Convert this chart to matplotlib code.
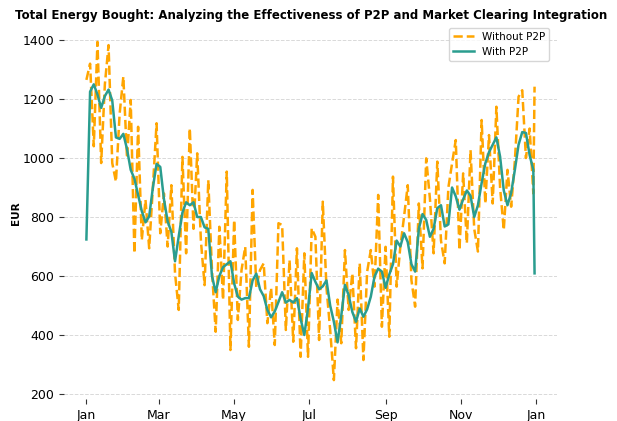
import matplotlib
matplotlib.use("Agg")
import matplotlib.pyplot as plt
import matplotlib.dates as mdates
import pandas as pd

dates = list(pd.date_range("2023-01-01", periods=122, freq="3D")) + [pd.Timestamp("2023-12-31")]

without_p2p = [
    1265, 1320, 1040, 1394, 983, 1250, 1383, 983, 920, 1150,
    1276, 1000, 1197, 677, 1106, 722, 858, 694, 900, 1118,
    745, 880, 700, 908, 609, 485, 1004, 677, 1101, 760,
    1016, 720, 569, 925, 620, 411, 767, 519, 954, 349,
    790, 451, 620, 699, 360, 892, 560, 620, 643, 440,
    560, 366, 779, 773, 417, 654, 377, 694, 326, 677,
    326, 762, 733, 383, 852, 560, 417, 247, 520, 372,
    688, 485, 609, 355, 643, 315, 614, 688, 564, 875,
    428, 699, 394, 937, 564, 700, 801, 908, 586, 496,
    846, 626, 999, 863, 677, 988, 720, 643, 900, 982,
    1061, 688, 948, 711, 1027, 760, 683, 1129, 846, 1078,
    846, 1174, 900, 756, 960, 835, 990, 1208, 1230, 1000,
    1100, 880, 1242,
]

with_p2p = [
    724, 1225, 1250, 1215, 1170, 1210, 1232, 1195, 1070, 1065,
    1082, 1030, 960, 930, 875, 820, 782, 802, 900, 980,
    970, 860, 785, 750, 650, 735, 815, 850, 840, 850,
    800, 800, 765, 760, 600, 545, 600, 630, 640, 650,
    575, 530, 520, 525, 525, 585, 608, 555, 532, 485,
    460, 480, 512, 545, 510, 519, 510, 525, 455, 400,
    490, 610, 580, 555, 565, 585, 500, 445, 375, 465,
    570, 535, 478, 445, 490, 462, 487, 530, 598, 625,
    615, 560, 605, 640, 720, 700, 745, 715, 640, 615,
    760, 810, 790, 733, 760, 830, 840, 768, 775, 900,
    870, 825, 860, 890, 872, 800, 840, 915, 982, 1020,
    1045, 1070, 1005, 890, 840, 882, 960, 1045, 1088, 1085,
    1010, 960, 609,
]

fig = plt.figure(figsize=(6.17, 4.21), dpi=100)
ax = fig.add_axes([0.1037, 0.0523, 0.7990, 0.8812])

ax.plot(dates, without_p2p, linestyle="--", color="#FFA500", linewidth=1.8, label="Without P2P")
ax.plot(dates, with_p2p, linestyle="-", color="#2a9d8f", linewidth=1.8, label="With P2P")

ax.set_ylim(183, 1441)
ax.set_yticks([200, 400, 600, 800, 1000, 1200, 1400])
ax.xaxis.set_major_locator(mdates.MonthLocator(bymonth=[1, 3, 5, 7, 9, 11]))
ax.xaxis.set_major_formatter(mdates.DateFormatter("%b"))
ax.tick_params(axis="both", labelsize=9, colors="#333333", labelcolor="black")

for s in ax.spines.values():
    s.set_visible(False)

ax.grid(axis="y", linestyle="--", color="#d9d9d9", linewidth=0.7)
ax.set_axisbelow(True)

ax.set_ylabel("EUR", fontsize=7.5, fontweight="bold", labelpad=1)
fig.suptitle("Total Energy Bought: Analyzing the Effectiveness of P2P and Market Clearing Integration",
             fontsize=8.5, fontweight="bold", x=0.505, y=0.978)

ax.legend(loc="upper right", fontsize=7.5, frameon=True, edgecolor="#cccccc",
          bbox_to_anchor=(0.995, 1.015))

fig.savefig("out.png", dpi=100)
